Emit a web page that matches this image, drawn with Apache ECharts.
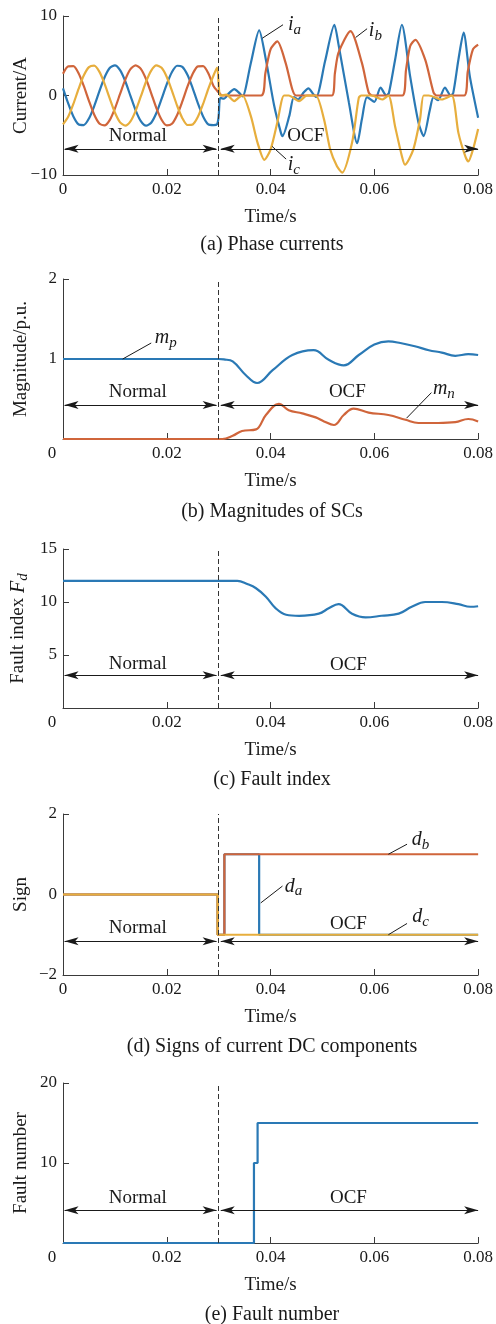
<!DOCTYPE html>
<html>
<head>
<meta charset="utf-8">
<script src="https://cdn.jsdelivr.net/npm/echarts@6/dist/echarts.min.js"></script>
<style>
  html, body { margin: 0; padding: 0; background: #fff; }
  #main { width: 496px; height: 1324px; }
</style>
</head>
<body>
<div id="main"></div>
<script>
// ---- data (time in ms) ----
const timeNormal = [0, 1, 2, 3, 4, 5, 6, 7, 8, 9, 10, 11, 12, 13, 14, 15, 16, 17, 18, 19,
  20, 21, 22, 23, 24, 25, 26, 27, 28, 29];

// (a) phase currents before the fault
const iaNormal = [0.9, -0.99, -2.63, -3.63, -3.72, -2.9, -1.36, 0.52, 2.27, 3.46, 3.79, 3.18, 1.79, -0.05,
  -1.87, -3.23, -3.8, -3.42, -2.2, -0.43, 1.44, 2.96, 3.74, 3.6, 2.57, 0.9, -0.99, -2.63, -3.63, -3.72];
const ibNormal = [2.74, 3.67, 3.69, 2.8, 1.21, -0.67, -2.39, -3.52, -3.77, -3.1, -1.65, 0.2, 2.0, 3.31,
  3.8, 3.35, 2.07, 0.28, -1.58, -3.05, -3.77, -3.55, -2.45, -0.75, 1.14, 2.74, 3.67, 3.69, 2.8, 1.21];
const icNormal = [-3.64, -2.68, -1.06, 0.83, 2.51, 3.57, 3.75, 3.0, 1.5, -0.36, -2.14, -3.38, -3.79, -3.26,
  -1.93, -0.12, 1.73, 3.14, 3.78, 3.48, 2.33, 0.59, -1.29, -2.85, -3.71, -3.64, -2.68, -1.06, 0.83, 2.51];

// (a) phase currents after the fault
const timeFaultA = [29.7, 30.0, 30.3, 31.0, 32.0, 33.0, 34.0, 34.6, 36.2, 37.8, 39.1, 40.7, 42.0, 42.3, 43.6,
  44.5, 45.3, 46.4, 47.3, 48.2, 48.8, 50.5, 52.3, 53.1, 55.1, 56.7, 57.6, 58.6, 60.0, 61.2, 62.3, 62.8,
  64.0, 65.3, 66.9, 68.5, 69.5, 70.7, 71.4, 72.3, 73.6, 74.7, 75.2, 76.2, 77.2, 78.4, 80];
const iaFault = [-3.6, -2.6, -0.3, -0.4, 0.3, 0.8, 0.3, -0.1, 4.1, 8.2, 4.5, -1.3, -4.7, -5.1, -2.6,
  -0.2, -0.5, 0.4, 0.9, 0.2, -0.2, 4.3, 8.9, 6.4, -0.9, -6.0, -3.0, -0.2, -0.8, 1.0, 0.0, 0.3,
  4.5, 8.9, 2.4, -3.4, -5.1, -1.8, -0.2, -0.6, 1.0, 0.0, 0.3, 4.5, 7.9, 2.4, -2.8];
const timeFaultB = [29.7, 30.3, 30.6, 38.2, 39.0, 40.0, 41.3, 42.9, 44.2, 44.9, 51.8, 52.4, 53.1, 55.4,
  57.6, 58.9, 59.6, 65.4, 66.1, 66.9, 67.9, 69.8, 71.4, 72.0, 77.3, 78.0, 79.0, 80];
const ibFault = [0.6, 0.2, 0.0, 0.0, 2.8, 5.8, 6.8, 4.1, 0.75, 0.0, 0.0, 2.8, 5.4, 8.1,
  4.1, 0.4, 0.0, 0.0, 3.2, 6.2, 7.0, 4.5, 0.4, 0.0, 0.0, 3.0, 5.8, 6.4];
const timeFaultC = [29.7, 30.1, 30.4, 31.5, 33.0, 34.0, 34.6, 36.2, 37.5, 38.8, 40.0, 41.3, 42.6, 43.5,
  45.5, 47.0, 48.7, 50.3, 51.5, 52.8, 53.8, 55.7, 57.0, 57.5, 59.5, 61.5, 62.7, 64.0, 65.3, 65.9,
  67.5, 68.8, 69.5, 70.5, 73.0, 74.9, 76.2, 77.5, 78.1, 79.0, 80];
const icFault = [3.5, 0.5, 0.0, 0.1, -0.7, -0.2, 0.0, -2.6, -5.95, -8.1, -6.8, -3.4, 0.0, 0.0,
  -0.7, 0.0, 0.0, -3.0, -6.8, -8.9, -9.7, -5.95, -0.3, 0.0, 0.0, -0.5, 0.0, -3.9, -7.6, -8.7,
  -6.8, -3.0, 0.0, 0.0, -0.5, 0.0, -4.7, -7.6, -8.3, -6.8, -4.2];

// (b) magnitudes of sequence components
const timeMp = [0, 30, 31, 32.7, 35.2, 37.4, 40.4, 44.2, 48.3, 51.2, 54.1, 57, 60, 62.7, 65, 67.8, 70.5, 73, 75.6, 78.1, 80];
const mp = [1, 1, 0.995, 0.97, 0.8, 0.7, 0.86, 1.05, 1.11, 0.99, 0.92, 1.05, 1.18, 1.22, 1.2, 1.16, 1.11, 1.08, 1.04, 1.06, 1.05];
const timeMn = [0, 29, 30.7, 32.7, 34.5, 37.2, 39.1, 41.6, 43.5, 46.1, 48.7, 50.3, 52.2, 54.1, 56, 58.9,
  62.7, 66, 68.5, 72.3, 75.6, 78.1, 80];
const mn = [0, 0, 0, 0.04, 0.1, 0.12, 0.3, 0.44, 0.36, 0.32, 0.27, 0.22, 0.175, 0.3, 0.38, 0.33,
  0.3, 0.24, 0.2, 0.2, 0.21, 0.25, 0.22];

// (c) fault index
const timeFd = [0, 33.6, 35.5, 37.2, 39.1, 41, 43, 45.5, 49.3, 51.2, 53.1, 55.7, 58.3, 61.4, 64.7, 67.2,
  69.8, 73, 76.2, 78.5, 80];
const fd = [12, 12, 11.7, 11.3, 10.5, 9.4, 8.8, 8.7, 8.9, 9.4, 9.8, 8.9, 8.55, 8.7, 8.9, 9.55,
  10.0, 10.0, 9.8, 9.55, 9.6];

// (d) signs of current DC components
const timeDa = [0, 29.8, 29.8, 31.1, 31.1, 37.8, 37.8, 80];
const da = [0, 0, -1, -1, 1, 1, -1, -1];
const timeDb = [0, 29.8, 29.8, 31.1, 31.1, 80];
const db = [0, 0, -1, -1, 1, 1];
const timeDc = [0, 29.8, 29.8, 80];
const dc = [0, 0, -1, -1];

// (e) fault number
const timeFn = [0, 36.8, 36.8, 37.5, 37.5, 80];
const fn = [0, 0, 10, 10, 15, 15];

// ---- styling ----
const FONT = '"Liberation Serif", "DejaVu Serif", serif';
const TXT = '#1a1a1a';
const AXC = '#3a3a3a';
const BLUE = '#2a79b5', ORANGE = '#d0653b', YELLOW = '#e7ae3d';

const rich = {
  i: { fontFamily: FONT, fontStyle: 'italic', fontSize: 20, color: TXT },
  s: { fontFamily: FONT, fontStyle: 'italic', fontSize: 15, color: TXT, padding: [10, 0, 0, 0] },
  l: { fontFamily: FONT, fontSize: 17, color: TXT, padding: [0, 22, 0, 0] }
};

function pairs(t, v) { return t.map((x, i) => [x / 1000, v[i]]); }
function pt(t, v) { return { coord: [t / 1000, v] }; }
function minus(v) { return String(v).replace('-', '\u2212'); }

const panels = [
  {
    top: 16, height: 159, min: -10, max: 10, step: 10, yName: 'Current/A',
    caption: '(a) Phase currents', capY: 245, hideY0: false,
    arrowY: -6.7, textY: -5.1, ocfY: -5.1, ocfX: 46.8,
    series: [
      [timeNormal.concat(timeFaultA), iaNormal.concat(iaFault), BLUE],
      [timeNormal.concat(timeFaultB), ibNormal.concat(ibFault), ORANGE],
      [timeNormal.concat(timeFaultC), icNormal.concat(icFault), YELLOW]
    ],
    leaders: [[38.4, 7.2, 42.4, 8.9], [56.4, 7.3, 58.6, 8.4], [40.3, -6.4, 43.0, -8.0]],
    tags: [[44.6, 8.9, 'i', 'a'], [60.2, 8.1, 'i', 'b'], [44.5, -8.7, 'i', 'c']]
  },
  {
    top: 279, height: 160, min: 0, max: 2, step: 1, yName: 'Magnitude/p.u.',
    caption: '(b) Magnitudes of SCs', capY: 512, hideY0: true,
    arrowY: 0.425, textY: 0.59, ocfY: 0.59, ocfX: 54.8,
    series: [[timeMp, mp, BLUE], [timeMn, mn, ORANGE]],
    leaders: [[11.5, 1.0, 17.0, 1.2], [66.2, 0.26, 71.0, 0.58]],
    tags: [[19.8, 1.26, 'm', 'p'], [73.4, 0.63, 'm', 'n']]
  },
  {
    top: 549, height: 159, min: 0, max: 15, step: 5, yName: 'Fault index {i|F}{s|d}',
    caption: '(c) Fault index', capY: 780, hideY0: true,
    arrowY: 3.1, textY: 4.15, ocfY: 4.1, ocfX: 55,
    series: [[timeFd, fd, BLUE]],
    leaders: [], tags: []
  },
  {
    top: 814, height: 161, min: -2, max: 2, step: 2, yName: 'Sign',
    caption: '(d) Signs of current DC components', capY: 1047, hideY0: false,
    arrowY: -1.16, textY: -0.84, ocfY: -0.74, ocfX: 55,
    series: [[timeDa, da, BLUE], [timeDb, db, ORANGE], [timeDc, dc, YELLOW]],
    leaders: [[38.1, -0.21, 42.3, 0.21], [62.7, 1.0, 66.3, 1.25], [62.7, -1.0, 66.3, -0.72]],
    tags: [[44.4, 0.2, 'd', 'a'], [68.9, 1.36, 'd', 'b'], [68.9, -0.56, 'd', 'c']]
  },
  {
    top: 1083, height: 160, min: 0, max: 20, step: 10, yName: 'Fault number',
    caption: '(e) Fault number', capY: 1315, hideY0: true,
    arrowY: 4.1, textY: 5.6, ocfY: 5.6, ocfX: 55,
    series: [[timeFn, fn, BLUE]],
    leaders: [], tags: []
  }
];

const grid = [], xAxis = [], yAxis = [], series = [], graphic = [];

panels.forEach((p, k) => {
  grid.push({ left: 63, right: 16, top: p.top, height: p.height });
  xAxis.push({
    gridIndex: k, type: 'value', min: 0, max: 0.08, interval: 0.02,
    axisLine: { show: true, onZero: false, lineStyle: { color: AXC, width: 1 } },
    axisTick: { show: true, inside: true, length: 6, lineStyle: { color: AXC } },
    splitLine: { show: false },
    axisLabel: {
      fontFamily: FONT, fontSize: 17, color: TXT, margin: 6, showMaxLabel: true, showMinLabel: true,
      rich: rich,
      formatter: v => v === 0 ? (p.hideY0 ? '{l|0}' : '0') : v.toFixed(2)
    },
    name: 'Time/s', nameLocation: 'middle', nameGap: 33, nameMoveOverlap: false,
    nameTextStyle: { fontFamily: FONT, fontSize: 19, color: TXT }
  });
  yAxis.push({
    gridIndex: k, type: 'value', min: p.min, max: p.max, interval: p.step,
    axisLine: { show: true, onZero: false, lineStyle: { color: AXC, width: 1 } },
    axisTick: { show: true, inside: true, length: 6, lineStyle: { color: AXC } },
    splitLine: { show: false },
    axisLabel: {
      fontFamily: FONT, fontSize: 17, color: TXT, margin: 6,
      formatter: v => (v === 0 && p.hideY0) ? '' : minus(v)
    },
    name: p.yName, nameLocation: 'middle', nameGap: 32, nameMoveOverlap: false,
    nameTextStyle: { fontFamily: FONT, fontSize: 19, color: TXT, rich: rich }
  });

  p.series.forEach(([t, v, color], j) => {
    const s = {
      type: 'line', xAxisIndex: k, yAxisIndex: k,
      data: pairs(t, v), showSymbol: false, smooth: k === 0 ? 0.25 : (k >= 3 ? false : 0.4),
      lineStyle: { color: color, width: 2.2 }, itemStyle: { color: color },
      silent: true, animation: false, z: 2 + j
    };
    if (j === 0) {
      const arrowEnd = (t0, y) => ({ coord: [t0 / 1000, y], symbol: 'arrow', symbolSize: [6, 14] });
      const lines = [
        [{ xAxis: 0.03, yAxis: p.min, symbol: 'none' }, { xAxis: 0.03, yAxis: p.max, symbol: 'none',
          lineStyle: { type: [5, 3], color: '#333', width: 1 } }],
        [arrowEnd(0.3, p.arrowY), arrowEnd(29.6, p.arrowY)],
        [arrowEnd(30.4, p.arrowY), arrowEnd(80, p.arrowY)]
      ];
      p.leaders.forEach(([t1, v1, t2, v2]) => lines.push([pt(t1, v1), pt(t2, v2)]));
      s.markLine = {
        silent: true, animation: false, symbol: ['none', 'none'],
        label: { show: false },
        lineStyle: { color: '#1a1a1a', width: 1, type: 'solid' },
        emphasis: { disabled: true },
        data: lines
      };
      const texts = [
        { coord: [0.0144, p.textY], label: { formatter: () => 'Normal' } },
        { coord: [p.ocfX / 1000, p.ocfY], label: { formatter: () => 'OCF' } }
      ];
      p.tags.forEach(([t0, v0, a, b]) => texts.push({
        coord: [t0 / 1000, v0], label: { formatter: () => '{i|' + a + '}{s|' + b + '}' }
      }));
      s.markPoint = {
        silent: true, animation: false, symbol: 'circle', symbolSize: 1,
        itemStyle: { color: 'rgba(0,0,0,0)' },
        label: { show: true, position: 'inside', fontFamily: FONT, fontSize: 19, color: TXT, rich: rich },
        data: texts
      };
    }
    series.push(s);
  });

  graphic.push({
    type: 'text', x: 272, y: p.capY, silent: true,
    style: { text: p.caption, fontFamily: FONT, fontSize: 20, fill: TXT, align: 'center', verticalAlign: 'middle' }
  });
});

const chart = echarts.init(document.getElementById('main'), null, { renderer: 'canvas' });
chart.setOption({
  animation: false,
  backgroundColor: '#fff',
  grid: grid, xAxis: xAxis, yAxis: yAxis, series: series, graphic: graphic
});
</script>
</body>
</html>
